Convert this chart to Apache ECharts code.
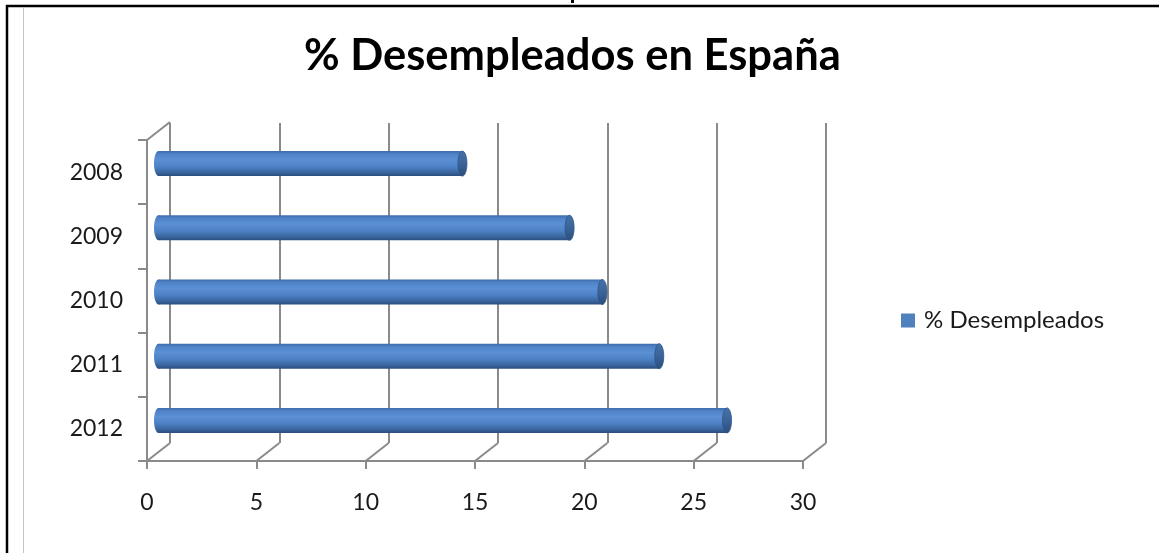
<!DOCTYPE html>
<html>
<head>
<meta charset="utf-8">
<script src="https://cdn.jsdelivr.net/npm/echarts@6/dist/echarts.min.js"></script>
<style>
html,body{margin:0;padding:0;background:#fff;}
#chart{width:1159px;height:553px;}
</style>
</head>
<body>
<div id="chart"></div>
<script>
const categories = ['2008', '2009', '2010', '2011', '2012'];
const seriesName = '% Desempleados';
const values = [13.9, 18.8, 20.3, 22.9, 26.0];
const xTicks = [0, 5, 10, 15, 20, 25, 30];
const titleText = '% Desempleados en España';

const FONT = 'Lato';
const GRID_COLOR = '#8a8a8a';
const DEPTH_X = 23, DEPTH_Y = -18;
const BAR_OFF_X = 11.5, BAR_OFF_Y = -8.5;
const BAR_H = 25, CAP_RX = 4.5;

const chart = echarts.init(document.getElementById('chart'), null, {renderer: 'canvas'});

const bodyGrad = () => new echarts.graphic.LinearGradient(0, 0, 0, 1, [
  {offset: 0, color: '#3d6cab'},
  {offset: 0.12, color: '#4f82c6'},
  {offset: 0.35, color: '#5c90d5'},
  {offset: 0.6, color: '#4f83c7'},
  {offset: 0.85, color: '#3b67a1'},
  {offset: 1, color: '#2b4e7e'}
]);
const capGrad = () => new echarts.graphic.LinearGradient(0, 0, 0, 1, [
  {offset: 0, color: '#4672aa'},
  {offset: 0.5, color: '#3a6499'},
  {offset: 1, color: '#2b4d7b'}
]);

const option = {
  backgroundColor: '#ffffff',
  animation: false,
  title: {
    text: titleText,
    left: 304,
    top: 34,
    padding: 0,
    textStyle: {fontFamily: FONT, fontWeight: 'bold', fontSize: 43.5, color: '#000'}
  },
  legend: {
    left: 901,
    top: 307,
    padding: 0,
    icon: 'rect',
    itemWidth: 14,
    itemHeight: 14,
    data: [seriesName],
    textStyle: {fontFamily: FONT, fontSize: 24, color: '#1a1a1a', lineHeight: 27, padding: [0, 0, 0, 4]}
  },
  grid: [
    {left: 147, top: 140, width: 656, height: 321, containLabel: false},
    {left: 170, top: 123, width: 656, height: 320, containLabel: false}
  ],
  xAxis: [
    {
      gridIndex: 0, type: 'value', min: 0, max: 30, interval: 5,
      axisLine: {show: true, lineStyle: {color: GRID_COLOR, width: 2}},
      axisTick: {show: true, length: 8, lineStyle: {color: GRID_COLOR, width: 2}},
      axisLabel: {fontFamily: FONT, fontSize: 23, color: '#1a1a1a', margin: 30},
      splitLine: {show: false}
    },
    {
      gridIndex: 1, type: 'value', min: 0, max: 30, interval: 5,
      axisLine: {show: false}, axisTick: {show: false}, axisLabel: {show: false},
      splitLine: {show: true, lineStyle: {color: GRID_COLOR, width: 2}}
    }
  ],
  yAxis: [
    {
      gridIndex: 0, type: 'category', data: categories, inverse: true,
      axisLine: {show: true, lineStyle: {color: GRID_COLOR, width: 2}},
      axisTick: {show: true, length: 9, lineStyle: {color: GRID_COLOR, width: 2}},
      axisLabel: {fontFamily: FONT, fontSize: 23, color: '#1a1a1a', margin: 24},
      splitLine: {show: false}
    },
    {
      gridIndex: 1, type: 'value', min: 0, max: 1, show: false
    }
  ],
  series: [
    {
      type: 'custom',
      name: 'depth',
      xAxisIndex: 0, yAxisIndex: 0,
      silent: true,
      data: xTicks.map(v => [v, 0]),
      renderItem: function (params, api) {
        const cs = params.coordSys;
        const x = api.coord([api.value(0), 0])[0];
        const bottom = cs.y + cs.height;
        const children = [{
          type: 'line',
          shape: {x1: x, y1: bottom, x2: x + DEPTH_X, y2: bottom + DEPTH_Y},
          style: {stroke: GRID_COLOR, lineWidth: 2}
        }];
        if (params.dataIndex === 0) {
          children.push({
            type: 'line',
            shape: {x1: cs.x, y1: cs.y, x2: cs.x + DEPTH_X, y2: cs.y + DEPTH_Y},
            style: {stroke: GRID_COLOR, lineWidth: 2}
          });
        }
        return {type: 'group', children: children};
      }
    },
    {
      type: 'custom',
      name: seriesName,
      xAxisIndex: 0, yAxisIndex: 0,
      itemStyle: {color: '#4f81bd'},
      data: values.map((v, i) => [v, i]),
      renderItem: function (params, api) {
        const p0 = api.coord([0, api.value(1)]);
        const p1 = api.coord([api.value(0), api.value(1)]);
        const x0 = p0[0] + BAR_OFF_X, x1 = p1[0] + BAR_OFF_X;
        const cy = p0[1] + BAR_OFF_Y;
        const top = cy - BAR_H / 2;
        return {
          type: 'group',
          children: [
            {type: 'ellipse', shape: {cx: x0, cy: cy, rx: CAP_RX, ry: BAR_H / 2}, style: {fill: bodyGrad()}},
            {type: 'rect', shape: {x: x0, y: top, width: x1 - x0, height: BAR_H}, style: {fill: bodyGrad()}},
            {type: 'ellipse', shape: {cx: x1, cy: cy, rx: CAP_RX, ry: BAR_H / 2}, style: {fill: capGrad(), stroke: '#2f5486', lineWidth: 0.8}}
          ]
        };
      }
    }
  ],
  graphic: [
    {type: 'line', shape: {x1: 6, y1: 6, x2: 1159, y2: 6}, style: {stroke: '#000', lineWidth: 2.5}},
    {type: 'line', shape: {x1: 7, y1: 5, x2: 7, y2: 553}, style: {stroke: '#000', lineWidth: 2.5}},
    {type: 'line', shape: {x1: 23.5, y1: 7, x2: 23.5, y2: 553}, style: {stroke: '#c4c4c4', lineWidth: 1}},
    {type: 'rect', shape: {x: 571, y: 0, width: 3, height: 3}, style: {fill: '#000'}}
  ]
};
chart.setOption(option);
</script>
</body>
</html>
